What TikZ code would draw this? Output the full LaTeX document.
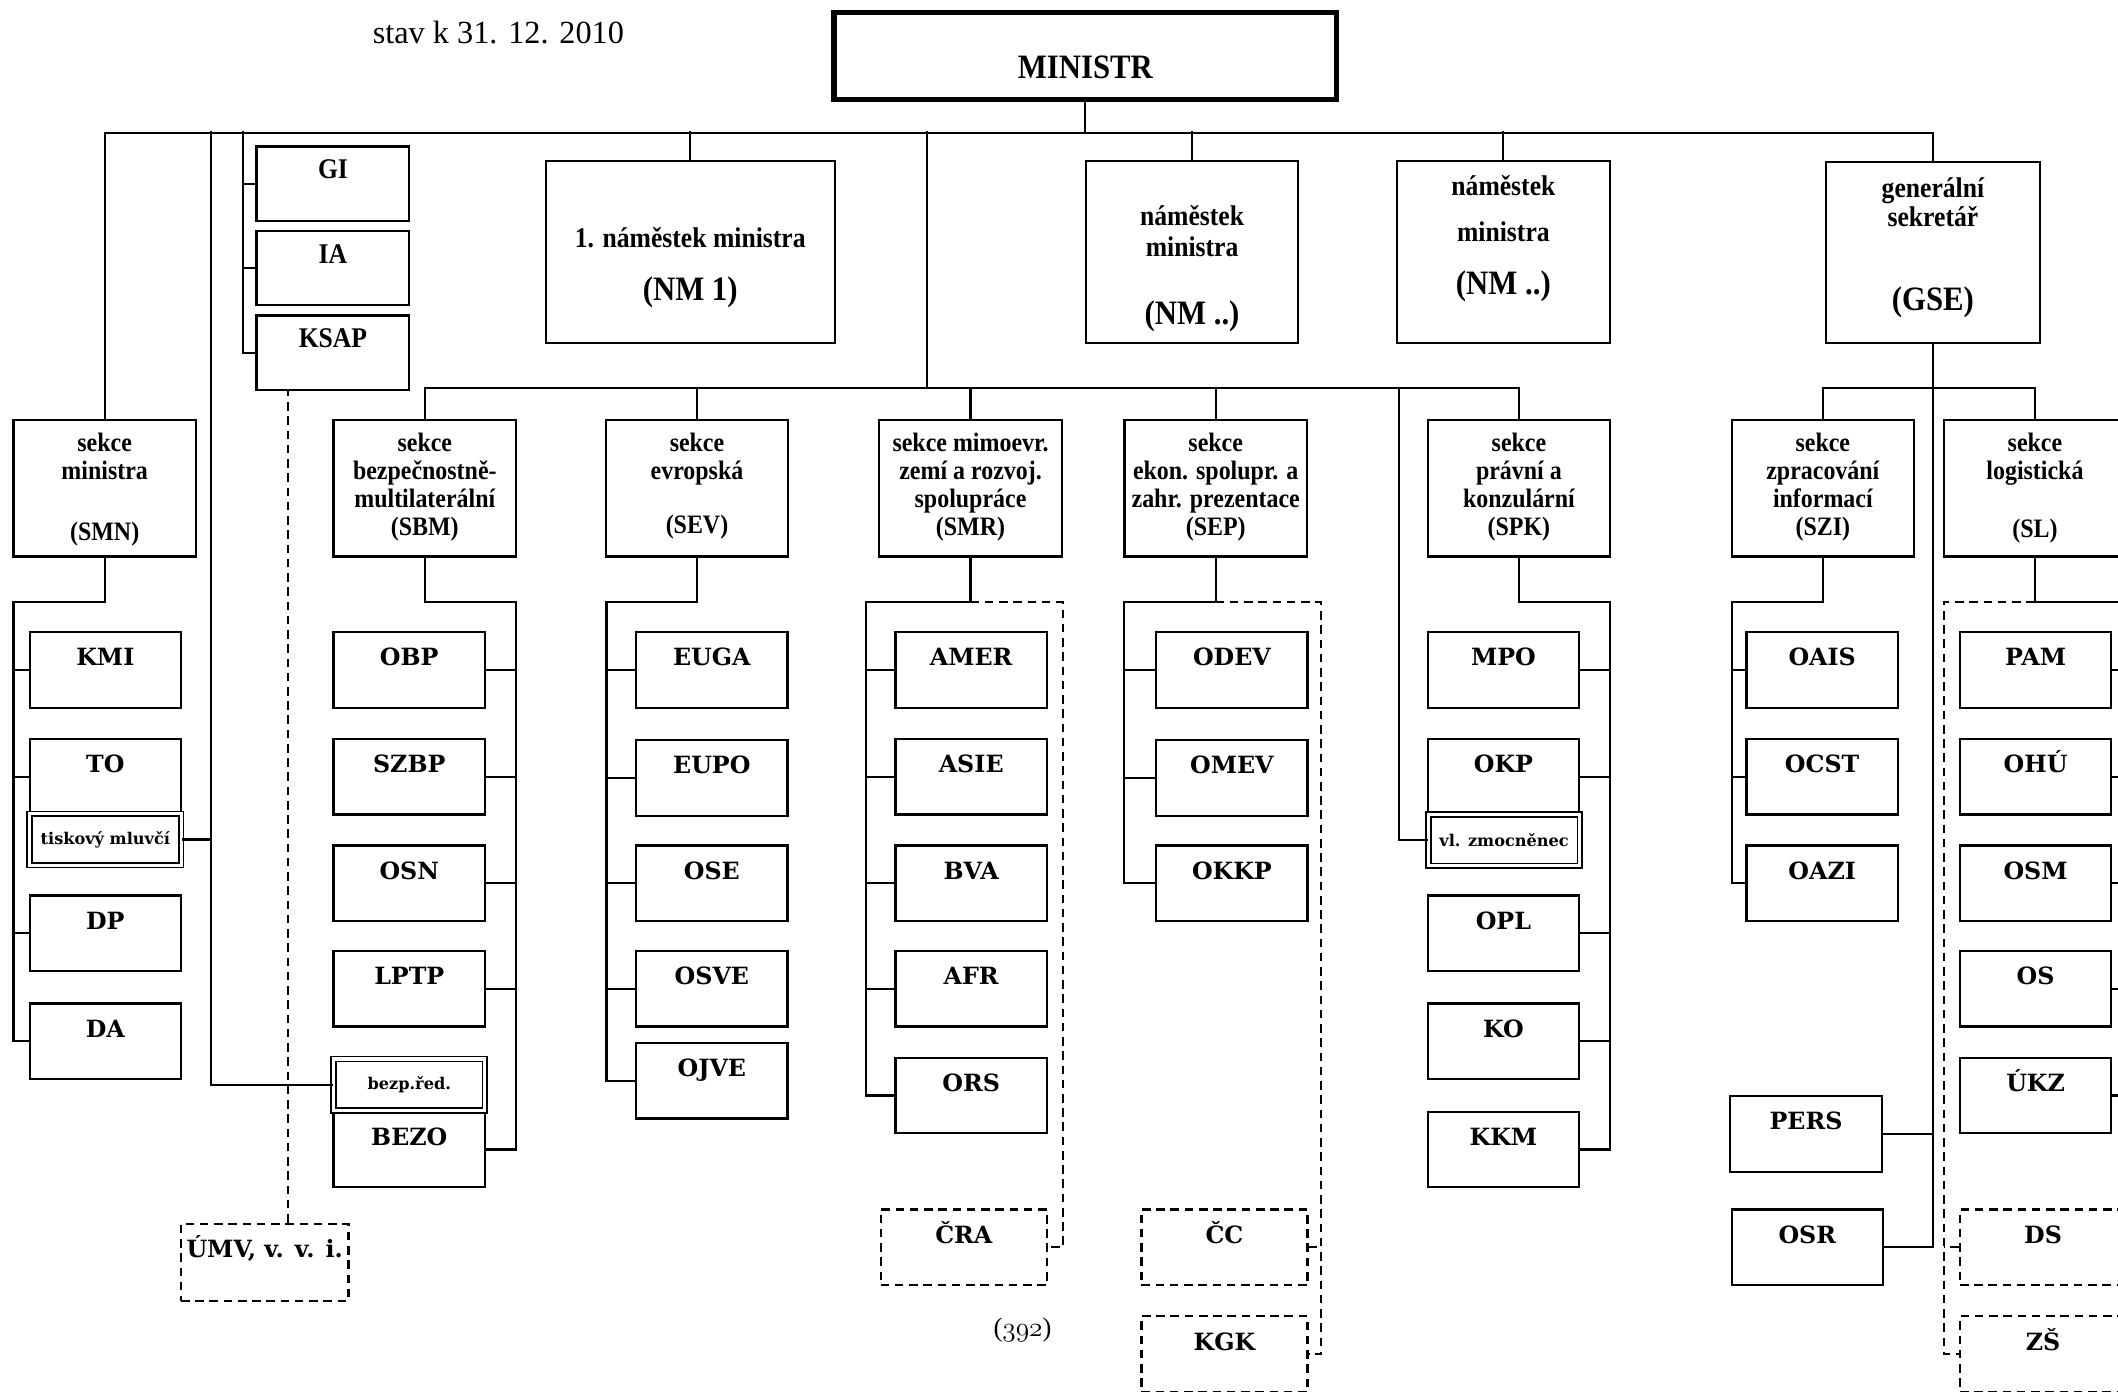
\documentclass[tikz,border=0pt]{standalone}
\usepackage{fontspec}
\setmainfont{Liberation Serif}
\newfontfamily\narrowfont[FakeStretch=0.9]{Liberation Serif}
\newfontfamily\deptfont{DejaVu Serif}
\usetikzlibrary{calc}
\newcommand{\stack}[1]{\begin{tabular}[t]{@{}c@{}}#1\end{tabular}}
\newcommand{\bigtag}{\fontsize{18}{20}\selectfont}

\begin{document}
\begin{tikzpicture}[x=0.025cm, y=-0.025cm, line width=1.1pt]
			\tikzstyle{block}=[draw, rectangle, line width=1.2pt, inner sep=0pt]
			\tikzstyle{head}=[block, font=\narrowfont\bfseries\fontsize{15}{15.5}\selectfont]
			\tikzstyle{aux}=[head, minimum width=2.825cm, minimum height=1.375cm, text height=0.6cm, text depth=0.775cm]
			\tikzstyle{sect}=[block, minimum width=3.375cm, minimum height=2.525cm, text height=0.59cm, text depth=1.935cm, font=\narrowfont\bfseries\fontsize{14}{14.7}\selectfont]
			\tikzstyle{unit}=[block, minimum width=2.8cm, minimum height=1.4cm, text height=0.625cm, text depth=0.775cm, font=\deptfont\bfseries\fontsize{12.5}{14}\selectfont]
			\tikzstyle{dashline}=[dash pattern=on 4.5pt off 3pt]
			\tikzstyle{ext}=[unit, dashline, minimum width=3.075cm]
			\tikzstyle{dbl}=[draw, double, double distance=1.6pt, line width=0.9pt, fill=white, inner sep=0pt, minimum width=2.8cm, minimum height=0.95cm, font=\deptfont\bfseries\fontsize{8.5}{10}\selectfont]

			\useasboundingbox (0,0) rectangle (1568,1030);
			\clip (0,0) rectangle (1568,1030);

			\node[font=\fontsize{17}{20}\selectfont] (date) at (369,24) {stav k 31. 12. 2010};
			\node[block, line width=2.8pt, minimum width=9.3cm, minimum height=1.6cm, text height=1.21cm, text depth=0.39cm, font=\narrowfont\bfseries\fontsize{18}{20}\selectfont] (minister) at (803.5,41.5) {MINISTR};

			% top level
			\node[aux] (gi) at (246.5,136) {GI};
			\node[aux] (ia) at (246.5,198.5) {IA};
			\node[aux] (ksap) at (246.5,261) {KSAP};
			\node[head, minimum width=5.35cm, minimum height=3.375cm, text height=1.6cm, text depth=1.775cm] (nm1) at (511,186.5) {\stack{1. náměstek ministra\\[11pt]\bigtag(NM 1)}};
			\node[head, minimum width=3.925cm, minimum height=3.375cm, text height=1.2cm, text depth=2.175cm] (nm2) at (882.5,186.5) {\stack{náměstek\\[0.8pt]ministra\\[18.5pt]\bigtag(NM ..)}};
			\node[head, minimum width=3.95cm, minimum height=3.375cm, text height=0.65cm, text depth=2.725cm] (nm3) at (1113,186.5) {\stack{náměstek\\[8.5pt]ministra\\[10.6pt]\bigtag(NM ..)}};
			\node[head, minimum width=3.95cm, minimum height=3.35cm, text height=0.65cm, text depth=2.7cm] (gse) at (1431,187) {\stack{generální\\sekretář\\[27pt]\bigtag(GSE)}};

			% sections
			\node[sect] (smn) at (77.5,361.5) {\stack{sekce\\ministra\\[17.2pt](SMN)}};
			\node[sect] (sbm) at (314.5,361.5) {\stack{sekce\\bezpečnostně-\\multilaterální\\(SBM)}};
			\node[sect] (sev) at (516,361.5) {\stack{sekce\\evropská\\[13.7pt](SEV)}};
			\node[sect] (smr) at (718.5,361.5) {\stack{sekce mimoevr.\\zemí a rozvoj.\\spolupráce\\(SMR)}};
			\node[sect] (sep) at (900,361.5) {\stack{sekce\\ekon. spolupr. a\\zahr. prezentace\\(SEP)}};
			\node[sect] (spk) at (1124.5,361.5) {\stack{sekce\\právní a\\konzulární\\(SPK)}};
			\node[sect] (szi) at (1349.5,361.5) {\stack{sekce\\zpracování\\informací\\(SZI)}};
			\node[sect] (sl) at (1506.5,361.5) {\stack{sekce\\logistická\\[15.8pt](SL)}};

			% departments
			\node[unit] (kmi) at (78,496) {KMI};
			\node[unit] (to) at (78,575) {TO};
			\node[unit] (dp) at (78,691) {DP};
			\node[unit] (da) at (78,771) {DA};
			\node[dbl] (tisk) at (78,621.5) {tiskový mluvčí};

			\node[unit] (obp) at (303,496) {OBP};
			\node[unit] (szbp) at (303,575) {SZBP};
			\node[unit] (osn) at (303,654) {OSN};
			\node[unit] (lptp) at (303,732) {LPTP};
			\node[unit] (bezo) at (303,851) {BEZO};
			\node[dbl] (bezped) at (303,803) {bezp.řed.};

			\node[unit] (euga) at (527,496) {EUGA};
			\node[unit] (eupo) at (527,576) {EUPO};
			\node[unit] (ose) at (527,654) {OSE};
			\node[unit] (osve) at (527,732) {OSVE};
			\node[unit] (ojve) at (527,800) {OJVE};

			\node[unit] (amer) at (719,496) {AMER};
			\node[unit] (asie) at (719,575) {ASIE};
			\node[unit] (bva) at (719,654) {BVA};
			\node[unit] (afr) at (719,732) {AFR};
			\node[unit] (ors) at (719,811) {ORS};
			\node[ext] (cra) at (713.5,923.5) {ČRA};

			\node[unit] (odev) at (912,496) {ODEV};
			\node[unit] (omev) at (912,576) {OMEV};
			\node[unit] (okkp) at (912,654) {OKKP};
			\node[ext] (cc) at (906.5,923.5) {ČC};
			\node[ext] (kgk) at (906.5,1002.5) {KGK};

			\node[unit] (mpo) at (1113,496) {MPO};
			\node[unit] (okp) at (1113,575) {OKP};
			\node[unit] (opl) at (1113,691) {OPL};
			\node[unit] (ko) at (1113,771) {KO};
			\node[unit] (kkm) at (1113,851) {KKM};
			\node[dbl] (vlz) at (1113.5,622) {vl. zmocněnec};

			\node[unit] (oais) at (1349,496) {OAIS};
			\node[unit] (ocst) at (1349,575) {OCST};
			\node[unit] (oazi) at (1349,654) {OAZI};
			\node[unit] (pers) at (1337,839.5) {PERS};
			\node[unit] (osr) at (1338,923.5) {OSR};

			\node[unit] (pam) at (1507,496) {PAM};
			\node[unit] (ohu) at (1507,575) {OHÚ};
			\node[unit] (osm) at (1507,654) {OSM};
			\node[unit] (os) at (1507,732) {OS};
			\node[unit] (ukz) at (1507,811) {ÚKZ};
			\node[ext] (ds) at (1512.5,923.5) {DS};
			\node[ext] (zs) at (1512.5,1002.5) {ZŠ};

			\node[ext, minimum width=3.1cm, minimum height=1.425cm, text depth=0.8cm] (umv) at (196,934.5) {ÚMV, v. v. i.};
			\node (page) at (757,985) {\fontsize{14}{16}\selectfont({\usefont{OML}{cmm}{m}{it}392})};

			% rails
			\coordinate (bus) at (803,97);
			\coordinate (busA) at (156,97);
			\coordinate (busB) at (180,97);
			\coordinate (busC) at (686,97);
			\coordinate (bus2) at (686,288);
			\coordinate (busD) at (1036,288);
			\coordinate (umvtop) at ($(umv.north)+(17,0)$);
			\coordinate (smnrail) at (10,446);
			\coordinate (sbmrail) at (382,446);
			\coordinate (sevrail) at (449,446);
			\coordinate (smrrail) at (641,446);
			\coordinate (smrdash) at (787,446);
			\coordinate (seprail) at (832,446);
			\coordinate (sepdash) at (978,446);
			\coordinate (spkrail) at (1192,446);
			\coordinate (szirail) at (1282,446);
			\coordinate (slrail) at (1590,446);
			\coordinate (sldash) at (1439,446);

			\draw (minister.south) -- ++(0,23) -| (smn.north);
			\draw (minister.south) -- ++(0,23) -| (gse.north);
			\draw (nm1.north) -- (nm1.north |- bus);
			\draw (nm2.north) -- (nm2.north |- bus);
			\draw (nm3.north) -- (nm3.north |- bus);
			\draw (busA) |- (bezped.west);
			\draw (tisk.east) -- (tisk.east -| busA);
			\draw (busB) |- (ksap.west);
			\draw (gi.west) -- (gi.west -| busB);
			\draw (ia.west) -- (ia.west -| busB);
			\draw[dashline] (umvtop) -- (umvtop |- ksap.south);

			\draw (busC) -- (bus2);
			\draw (sbm.north) -- ++(0,-23) -| (spk.north);
			\draw (sev.north) -- (sev.north |- bus2);
			\draw (smr.north) -- (smr.north |- bus2);
			\draw (sep.north) -- (sep.north |- bus2);
			\draw (busD) |- (vlz.west);

			\draw (szi.north) -- ++(0,-23) -| (sl.north);
			\draw (gse.south) |- (osr.east);
			\draw (pers.east) -- (pers.east -| gse.south);

			\draw (smn.south) |- (smnrail) |- (da.west);
			\foreach \n in {kmi,to,dp} \draw (\n.west) -- (\n.west -| smnrail);
			\draw (sbm.south) |- (sbmrail) |- (bezo.east);
			\foreach \n in {obp,szbp,osn,lptp} \draw (\n.east) -- (\n.east -| sbmrail);
			\draw (sev.south) |- (sevrail) |- (ojve.west);
			\foreach \n in {euga,eupo,ose,osve} \draw (\n.west) -- (\n.west -| sevrail);
			\draw (smr.south) |- (smrrail) |- (ors.west);
			\foreach \n in {amer,asie,bva,afr} \draw (\n.west) -- (\n.west -| smrrail);
			\draw[dashline] (smr.south |- smrrail) -- (smrdash) |- (cra.east);
			\draw (sep.south) |- (seprail) |- (okkp.west);
			\foreach \n in {odev,omev} \draw (\n.west) -- (\n.west -| seprail);
			\draw[dashline] (sep.south |- seprail) -- (sepdash) |- (kgk.east);
			\draw[dashline] (cc.east) -- (cc.east -| sepdash);
			\draw (spk.south) |- (spkrail) |- (kkm.east);
			\foreach \n in {mpo,okp,opl,ko} \draw (\n.east) -- (\n.east -| spkrail);
			\draw (szi.south) |- (szirail) |- (oazi.west);
			\foreach \n in {oais,ocst} \draw (\n.west) -- (\n.west -| szirail);
			\draw (sl.south) |- (slrail) |- (ukz.east);
			\foreach \n in {pam,ohu,osm,os} \draw (\n.east) -- (\n.east -| slrail);
			\draw[dashline] (sl.south |- slrail) -- (sldash) |- (zs.west);
			\draw[dashline] (ds.west) -- (ds.west -| sldash);
			\end{tikzpicture}
\end{document}
